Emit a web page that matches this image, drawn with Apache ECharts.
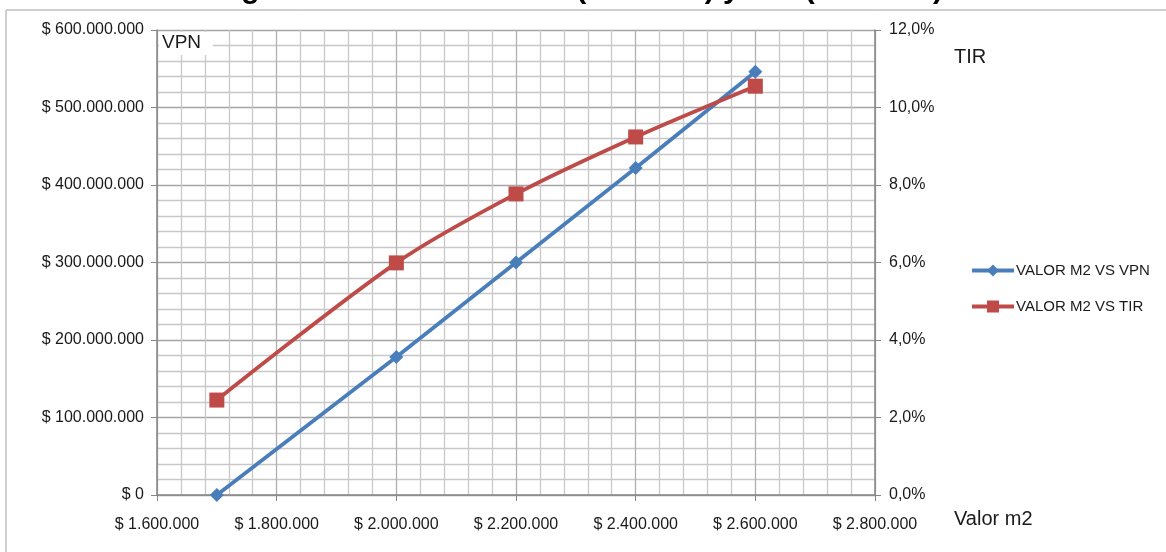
<!DOCTYPE html>
<html>
<head>
<meta charset="utf-8">
<title>Variación VPN y TIR</title>
<script src="https://cdn.jsdelivr.net/npm/echarts@6/dist/echarts.min.js"></script>
<style>
  html, body { margin: 0; padding: 0; background: #fff; }
  #chart { width: 1166px; height: 552px; }
</style>
</head>
<body>
<div id="chart"></div>
<script>
// valor m2 (x) con su VPN y TIR
var valorM2 = [1700000, 2000000, 2200000, 2400000, 2600000];
var vpn = [0, 178000000, 300000000, 422000000, 546000000];
var tir = [0.0245, 0.0599, 0.0777, 0.0924, 0.1055];

var seriesNames = ['VALOR M2 VS VPN', 'VALOR M2 VS TIR'];

function puntos(n) {
    return String(Math.round(n)).replace(/\B(?=(\d{3})+(?!\d))/g, '.');
}

var fontFam = '"Liberation Sans", Arial, sans-serif';
var txt = '#1a1a1a';

var chart = echarts.init(document.getElementById('chart'), null, {renderer: 'canvas'});

chart.setOption({
    animation: false,
    backgroundColor: '#fff',
    textStyle: { fontFamily: fontFam },
    grid: { left: 157, right: 291, top: 30, bottom: 57 },
    legend: {
        orient: 'vertical',
        left: 965,
        top: 258,
        itemGap: 21,
        itemWidth: 42,
        itemHeight: 15,
        lineStyle: { width: 4 },
        textStyle: { fontSize: 15, color: txt, fontFamily: fontFam, padding: [0, 0, 0, -3] },
        data: seriesNames
    },
    graphic: [
        {
            type: 'rect',
            shape: { x: 6, y: 10, width: 1170, height: 560 },
            style: { fill: 'none', stroke: '#a0a0a0', lineWidth: 1 },
            silent: true
        },
        {
            type: 'text',
            left: 'center',
            top: -25,
            style: {
                text: 'Figura 17. Variación VPN (Valor m²) y TIR (Valor m²).',
                font: 'bold 30px ' + fontFam,
                fill: '#000'
            }
        },
        { type: 'rect', shape: { x: 159, y: 32, width: 54, height: 23 }, style: { fill: '#fff' }, z: 50 },
        { type: 'text', left: 162, top: 33, z: 51, style: { text: 'VPN', font: '19px ' + fontFam, fill: txt } },
        { type: 'text', left: 954, top: 47, style: { text: 'TIR', font: '20px ' + fontFam, fill: txt } },
        { type: 'text', left: 954, top: 509, style: { text: 'Valor m2', font: '20px ' + fontFam, fill: txt } }
    ],
    xAxis: {
        type: 'value',
        min: 1600000,
        max: 2800000,
        interval: 200000,
        axisLine: { show: true, lineStyle: { color: '#868686', width: 1.5 } },
        axisTick: { show: true, length: 6, lineStyle: { color: '#868686' } },
        axisLabel: {
            fontSize: 16, color: txt, margin: 22,
            formatter: function (v) { return '$ ' + puntos(v); }
        },
        minorTick: { show: false, splitNumber: 5 },
        splitLine: { show: true, lineStyle: { color: '#b0b0b0', width: 1.3 } },
        minorSplitLine: { show: true, lineStyle: { color: '#c8c8c8', width: 1.3 } }
    },
    yAxis: [
        {
            type: 'value',
            min: 0,
            max: 600000000,
            interval: 100000000,
            position: 'left',
            axisLine: { show: true, lineStyle: { color: '#868686', width: 1.5 } },
            axisTick: { show: true, length: 6, lineStyle: { color: '#868686' } },
            axisLabel: {
                fontSize: 16, color: txt, margin: 13,
                formatter: function (v) { return '$ ' + puntos(v); }
            },
            minorTick: { show: false, splitNumber: 5 },
            splitLine: { show: true, lineStyle: { color: '#a4a4a4', width: 1.3 } },
            minorSplitLine: { show: true, lineStyle: { color: '#c8c8c8', width: 1.3 } }
        },
        {
            type: 'value',
            min: 0,
            max: 0.12,
            interval: 0.02,
            position: 'right',
            axisLine: { show: true, lineStyle: { color: '#868686', width: 1.5 } },
            axisTick: { show: true, length: 6, lineStyle: { color: '#868686' } },
            axisLabel: {
                fontSize: 16, color: txt, margin: 14,
                formatter: function (v) { return (v * 100).toFixed(1).replace('.', ',') + '%'; }
            },
            splitLine: { show: false }
        }
    ],
    series: [
        {
            name: seriesNames[0],
            type: 'line',
            yAxisIndex: 0,
            data: valorM2.map(function (x, i) { return [x, vpn[i]]; }),
            symbol: 'diamond',
            symbolSize: 14,
            lineStyle: { width: 3.8, color: '#4a7ebb' },
            itemStyle: { color: '#4a7ebb' },
            z: 3
        },
        {
            name: seriesNames[1],
            type: 'line',
            yAxisIndex: 1,
            smooth: 0.3,
            data: valorM2.map(function (x, i) { return [x, tir[i]]; }),
            symbol: 'rect',
            symbolSize: 15,
            lineStyle: { width: 3.8, color: '#be4b48' },
            itemStyle: { color: '#be4b48' },
            z: 4
        }
    ]
});
</script>
</body>
</html>
